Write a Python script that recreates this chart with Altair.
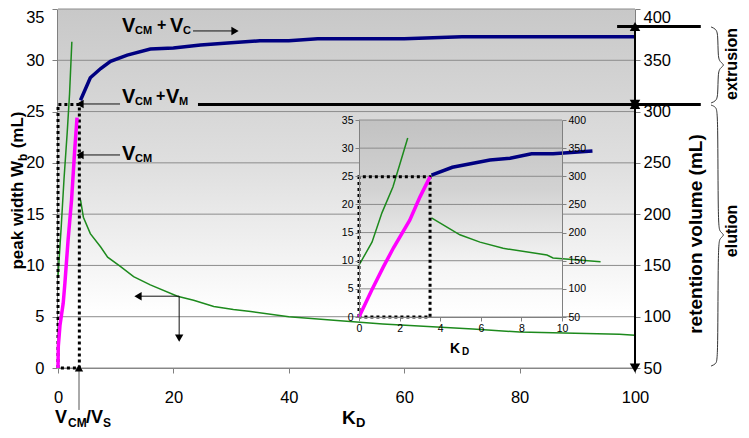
import altair as alt
import pandas as pd

# ---------------- data ----------------
# main chart: peak width W_b (mL, left axis) vs K_D
kd_wb_rise = [0.0, 0.55, 1.05, 1.6, 2.0, 2.4]
wb_rise = [8.9, 13.7, 18.5, 23.0, 26.7, 31.8]
kd_wb_ext = [3.9, 4.4, 5.6, 7.4, 8.6, 10.8, 13.1, 16.0, 20.7, 23.5, 27.0, 30.4, 33.4,
             40.0, 48.9, 56.3, 71.9, 80.0, 97.3, 100.0]
wb_ext = [16.4, 14.7, 13.1, 11.8, 10.8, 9.9, 8.9, 8.1, 7.0, 6.6, 6.0, 5.7, 5.5,
          5.0, 4.6, 4.3, 3.8, 3.5, 3.3, 3.2]
# main chart: retention volume (mL, right axis)
kd_vcm = [0.0, 0.05, 0.35, 0.9, 1.2, 1.75, 2.35, 2.9, 3.3]
vr_vcm = [50, 71, 92, 113, 133, 175, 214, 263, 294]
kd_vc = [3.9, 5.6, 7.4, 9.1, 12.0, 16.0, 20.0, 24.7, 30.0, 35.0, 40.0, 45.0, 60.0, 70.0, 85.0, 100.0]
vr_vc = [311, 333, 342, 349, 355, 361, 362, 365, 367, 369, 369, 371, 371, 373, 373, 373]
# dotted box (main)
box_k = [0, 0, 3.7, 3.7, 0]
box_w = [0, 25.7, 25.7, 0, 0]

# inset chart
kd_rise_in = [0.0, 0.64, 1.13, 1.67, 2.0, 2.4]
wb_rise_in = [9.2, 13.3, 18.5, 23.1, 27.0, 31.8]
kd_ext_in = [3.57, 4.97, 5.96, 7.1, 9.26, 9.56, 11.9]
wb_ext_in = [17.6, 14.6, 13.3, 12.2, 11.0, 10.5, 9.8]
kd_vcm_in = [0.0, 0.63, 1.2, 1.7, 2.5, 3.0, 3.5]
vr_vcm_in = [50, 98, 139, 173, 222, 263, 299]
kd_vc_in = [3.57, 4.6, 6.45, 7.44, 8.5, 9.56, 11.5]
vr_vc_in = [302, 316, 329, 332, 340, 340, 345]
box_k_in = [0, 0, 3.5, 3.5, 0]
box_w_in = [0, 24.9, 24.9, 0, 0]

# axes ticks
main_x_ticks = [0, 20, 40, 60, 80, 100]
left_ticks = [0, 5, 10, 15, 20, 25, 30, 35]
right_ticks = [50, 100, 150, 200, 250, 300, 350, 400]
inset_x_ticks = [0, 2, 4, 6, 8, 10]

# annotation levels (retention volume)
vcm_vm = 307
vcm_vc_top = 383

FONT = "Liberation Sans"
GREEN = "#1d8a1d"
BLUE = "#000080"
MAGENTA = "#ff00ff"
GRID = "#8c8c8c"
AXC = "#808080"


def df(**cols):
    return pd.DataFrame(cols)


# scales
xA = alt.Scale(domain=[0, 100], nice=False, zero=False)
yA = alt.Scale(domain=[0, 35], nice=False, zero=False)
yB = alt.Scale(domain=[50, 400], nice=False, zero=False)
xC = alt.Scale(domain=[0, 10], range=[301, 504], nice=False, zero=False)
yC = alt.Scale(domain=[0, 35], range=[308, 111], nice=False, zero=False)
yD = alt.Scale(domain=[50, 400], range=[308, 111], nice=False, zero=False)


def top_base(v):
    return {"condition": {"test": "datum.value >= %s" % v, "value": "top"}, "value": "middle"}


ax_main_x = alt.Axis(values=main_x_ticks, title=None, grid=False, orient="bottom", domainColor=AXC,
                     tickColor=AXC, tickSize=5, labelFont=FONT, labelFontSize=16.5,
                     labelColor="black", labelPadding=16, labelFlush=False)
ax_main_left = alt.Axis(values=left_ticks, title=None, grid=False, orient="left", offset=1,
                        domainColor=AXC, tickColor=AXC, tickSize=5, labelFont=FONT,
                        labelFontSize=16.5, labelColor="black", labelPadding=8,
                        labelBaseline=top_base(35))
ax_main_right = alt.Axis(values=right_ticks, title=None, grid=False, orient="right",
                         domainColor=AXC, tickColor=AXC, tickSize=5, labelFont=FONT,
                         labelFontSize=16.5, labelColor="black", labelPadding=3,
                         labelBaseline=top_base(400))
ax_in_x = alt.Axis(values=inset_x_ticks, title=None, grid=False, orient="bottom", offset=-51,
                   domainColor=AXC, tickColor=AXC, tickSize=4, labelFont=FONT, labelFontSize=10.5,
                   labelColor="black", labelPadding=2, labelFlush=False, zindex=1)
ax_in_left = alt.Axis(values=left_ticks, title=None, grid=False, orient="left", offset=-301,
                      domainColor=AXC, tickColor=AXC, tickSize=4, labelFont=FONT, labelFontSize=10.5,
                      labelColor="black", labelPadding=2, zindex=1)
ax_in_right = alt.Axis(values=right_ticks, title=None, grid=False, orient="right", offset=-73,
                       domainColor=AXC, tickColor=AXC, tickSize=4, labelFont=FONT,
                       labelFontSize=10.5, labelColor="black", labelPadding=2, zindex=1)


def grad(stops):
    return alt.LinearGradient(gradient="linear", x1=0, x2=0, y1=0, y2=1,
                              stops=[alt.GradientStop(color=c, offset=o) for o, c in stops])


def xy(xs, ys, xaxis=None, yaxis=None):
    return dict(x=alt.X("K:Q", scale=xs, axis=xaxis), y=alt.Y("v:Q", scale=ys, axis=yaxis))


def line(data, color, width, xs, ys, dash=None, order=False, interp=None, yaxis=None):
    kw = dict(color=color, strokeWidth=width)
    if dash:
        kw["strokeDash"] = dash
    if interp:
        kw["interpolate"] = interp
    enc = xy(xs, ys, yaxis=yaxis)
    if order:
        enc["order"] = alt.Order("o:Q")
    return alt.Chart(data).mark_line(**kw).encode(**enc)


def text(data, size, xs, ys, angle=0, align="left", baseline="alphabetic", weight="bold"):
    return alt.Chart(data).mark_text(font=FONT, fontSize=size, fontWeight=weight, angle=angle,
                                     align=align, baseline=baseline, color="black").encode(
        text="t:N", **xy(xs, ys))


def heads(data, shape, size, xs, ys, dx=0, dy=0):
    return alt.Chart(data).mark_point(shape=shape, size=size, filled=True, color="black",
                                      opacity=1, dx=dx, dy=dy).encode(**xy(xs, ys))


def rules(data, color, width, xs, ys):
    return alt.Chart(data).mark_rule(color=color, strokeWidth=width).encode(
        x=alt.X("K:Q", scale=xs, axis=None), x2="K2:Q",
        y=alt.Y("v:Q", scale=ys, axis=None), y2="v2:Q")


def rect(data, color, xs, ys, xaxis, yaxis):
    return alt.Chart(data).mark_rect(color=color).encode(
        x=alt.X("K:Q", scale=xs, axis=xaxis), x2="K2:Q",
        y=alt.Y("v:Q", scale=ys, axis=yaxis), y2="v2:Q")


layers = []

# ---------------- main chart, left axis ----------------
layers.append(rect(df(K=[0], K2=[100], v=[0], v2=[35]),
                   grad([(0, "#c8c8c8"), (0.45, "#e0e0e0"), (0.85, "#ffffff"), (1, "#ffffff")]),
                   xA, yA, ax_main_x, ax_main_left))
layers.append(alt.Chart(df(v=left_ticks)).mark_rule(color=GRID, strokeWidth=1).encode(
    y=alt.Y("v:Q", scale=yA, axis=None)))
layers.append(line(df(K=kd_wb_rise, v=wb_rise), GREEN, 1.5, xA, yA))
layers.append(line(df(K=kd_wb_ext, v=wb_ext), GREEN, 1.5, xA, yA))
layers.append(line(df(K=box_k, v=box_w, o=list(range(len(box_k)))), "black", 3, xA, yA,
                   dash=[3, 3], order=True))

layers.append(rules(df(K=[23.4, 10.75, 10.75, 21.0, 21.0], K2=[30.68, 3.81, 3.81, 13.86, 21.0],
                       v=[32.86, 25.74, 20.77, 7.0, 7.0], v2=[32.86, 25.74, 20.77, 7.0, 2.92]),
                    "#111111", 1, xA, yA))
layers.append(rules(df(K=[3.64], K2=[3.64], v=[-4.09], v2=[0]), "#555555", 1, xA, yA))
layers.append(heads(df(K=[30.68], v=[32.86]), "triangle-right", 70, xA, yA, dx=-3.6))
layers.append(heads(df(K=[3.81, 3.81, 13.86], v=[25.74, 20.77, 7.0]), "triangle-left", 70, xA, yA, dx=3.6))
layers.append(heads(df(K=[3.64], v=[0]), "triangle-up", 70, xA, yA, dy=3.6))
layers.append(heads(df(K=[21.0], v=[2.92]), "triangle-down", 70, xA, yA, dy=-3.6))

layers.append(line(df(
    K=[113.17, 114.04, 114.38, 114.38, 114.73, 115.6, 114.73, 114.38, 114.38, 114.04, 113.17] * 2,
    v=[33.25, 33.05, 32.56, 30.32, 29.83, 29.54, 29.25, 28.76, 26.52, 26.03, 25.84,
       25.64, 25.45, 24.86, 13.84, 13.26, 12.97, 12.67, 12.09, 0.88, 0.39, 0.19],
    o=list(range(22)), b=["e"] * 11 + ["l"] * 11), "#333333", 1, xA, yA, order=True,
    interp="basis").encode(detail="b:N"))

# V_CM + V_C, V_CM + V_M, V_CM labels
layers.append(text(df(t=["V", "V", "V", "V", "V"],
                      K=[11.09, 19.41, 11.09, 18.72, 11.09],
                      v=[32.76, 32.76, 25.84, 25.84, 20.28]), 20, xA, yA))
layers.append(text(df(t=["+", "+"], K=[17.16, 16.98], v=[32.96, 26.03]), 16, xA, yA))
layers.append(text(df(t=["CM", "C", "CM", "M", "CM"], K=[13.34, 21.66, 13.34, 20.97, 13.34],
                      v=[32.56, 32.56, 25.64, 25.64, 20.08]), 11, xA, yA))
# V_CM/V_S label
layers.append(text(df(t=["V", "/", "V"], K=[-0.52, 4.85, 5.72], v=[-5.36] * 3), 18, xA, yA))
layers.append(text(df(t=["CM", "S"], K=[1.73, 7.8], v=[-5.75, -5.75]), 12, xA, yA))
# K_D axis title
layers.append(text(df(t=["K"], K=[49.22], v=[-5.46]), 19, xA, yA))
layers.append(text(df(t=["D"], K=[51.65], v=[-5.75]), 13, xA, yA))

# rotated titles
layers.append(text(df(t=["peak width W", "(mL)"], K=[-5.98, -5.98], v=[9.6, 21.42]), 17, xA, yA,
                   angle=270))
layers.append(text(df(t=["b"], K=[-5.29], v=[20.19]), 12, xA, yA, angle=270))
layers.append(text(df(t=["retention volume (mL)"], K=[110.57], v=[13.06]), 19, xA, yA, angle=270,
                   align="center", baseline="middle"))
layers.append(text(df(t=["extrusion", "elution"], K=[117.68, 117.68], v=[29.64, 13.36]), 16, xA, yA,
                   angle=270, align="center"))

# ---------------- main chart, right axis ----------------
layers.append(line(df(K=kd_vcm, v=vr_vcm), MAGENTA, 3.5, xA, yB, yaxis=ax_main_right))
layers.append(line(df(K=kd_vc, v=vr_vc), BLUE, 3.5, xA, yB))
layers.append(rules(df(K=[24.26, 96.9], K2=[111.4, 111.4], v=[vcm_vm, vcm_vc_top],
                       v2=[vcm_vm, vcm_vc_top]), "black", 3, xA, yB))
layers.append(rules(df(K=[100], K2=[100], v=[vcm_vc_top], v2=[50]), "black", 2, xA, yB))
layers.append(heads(df(K=[100, 100], v=[vcm_vc_top, vcm_vm]), "triangle-up", 110, xA, yB, dy=4.5))
layers.append(heads(df(K=[100, 100], v=[vcm_vm, 50]), "triangle-down", 110, xA, yB, dy=-4.5))

# ---------------- inset, left axis ----------------
layers.append(rect(df(K=[0], K2=[10], v=[0], v2=[35]),
                   grad([(0, "#c2c2c2"), (0.35, "#d2d2d2"), (0.75, "#f6f6f6"), (1, "#ffffff")]),
                   xC, yC, ax_in_x, ax_in_left))
layers.append(rules(df(K=[0] * len(left_ticks), K2=[10] * len(left_ticks), v=left_ticks,
                       v2=left_ticks), GRID, 1, xC, yC))
layers.append(line(df(K=kd_rise_in, v=wb_rise_in), GREEN, 1.5, xC, yC))
layers.append(line(df(K=kd_ext_in, v=wb_ext_in), GREEN, 1.5, xC, yC))
layers.append(line(df(K=box_k_in, v=box_w_in, o=list(range(len(box_k_in)))), "black", 3, xC, yC,
                   dash=[3, 3], order=True))
layers.append(text(df(t=["K"], K=[4.48], v=[-6.40]), 14, xC, yC))
layers.append(text(df(t=["D"], K=[5.07], v=[-6.75]), 10, xC, yC))

# ---------------- inset, right axis ----------------
layers.append(line(df(K=kd_vcm_in, v=vr_vcm_in), MAGENTA, 3.5, xC, yD, yaxis=ax_in_right))
layers.append(line(df(K=kd_vc_in, v=vr_vc_in), BLUE, 3.5, xC, yD))

chart = alt.layer(*layers).resolve_scale(
    x="independent", y="independent"
).properties(
    width=577, height=359,
    autosize=alt.AutoSizeParams(type="none"),
    padding={"left": 50, "top": 1, "right": 106, "bottom": 62},
    background="white",
).configure_view(stroke=None)

chart.save("out.html", embed_options={"renderer": "svg", "actions": False})
